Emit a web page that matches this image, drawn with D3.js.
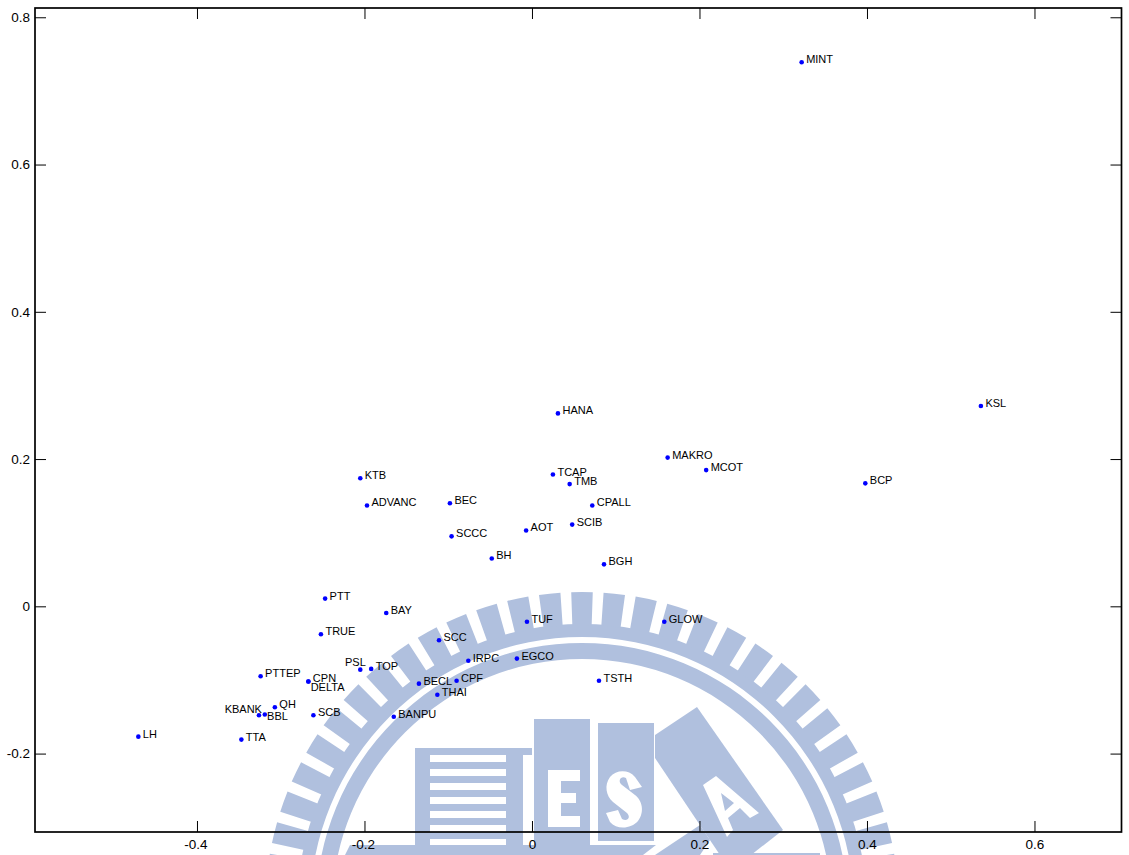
<!DOCTYPE html>
<html>
<head>
<meta charset="utf-8">
<script src="https://cdn.jsdelivr.net/npm/d3@7/dist/d3.min.js"></script>
<style>
    body { margin: 0; background: #fff; }
    text { font-family: "Liberation Sans", Arial, sans-serif; fill: #000; }
</style>
</head>
<body>
<script>
const names = ['MINT', 'KSL', 'HANA', 'MAKRO', 'MCOT', 'BCP', 'TCAP', 'TMB', 'CPALL', 'KTB', 'ADVANC', 'BEC',
    'SCCC', 'AOT', 'SCIB', 'BH', 'BGH', 'PTT', 'BAY', 'TRUE', 'TUF', 'GLOW', 'SCC', 'IRPC', 'EGCO', 'TSTH',
    'CPF', 'BECL', 'THAI', 'BANPU', 'PSL', 'TOP', 'PTTEP', 'CPN', 'DELTA', 'QH', 'KBANK', 'BBL', 'SCB', 'LH', 'TTA']
const xValues = [0.322, 0.536, 0.031, 0.162, 0.208, 0.398, 0.025, 0.045, 0.072, -0.205, -0.197, -0.098,
    -0.096, -0.007, 0.048, -0.048, 0.086, -0.247, -0.174, -0.252, -0.006, 0.158, -0.111, -0.076, -0.018, 0.080,
    -0.090, -0.135, -0.113, -0.165, -0.205, -0.192, -0.324, -0.267, -0.267, -0.307, -0.326, -0.319, -0.261, -0.470, -0.347]
const yValues = [0.739, 0.272, 0.262, 0.202, 0.185, 0.167, 0.179, 0.166, 0.137, 0.174, 0.137, 0.140,
    0.095, 0.103, 0.111, 0.065, 0.057, 0.0105, -0.009, -0.038, -0.021, -0.021, -0.046, -0.074, -0.071, -0.101,
    -0.101, -0.105, -0.120, -0.150, -0.086, -0.085, -0.095, -0.102, -0.102, -0.137, -0.148, -0.147, -0.148, -0.177, -0.181]
const xTicks = [-0.4, -0.2, 0, 0.2, 0.4, 0.6]
const yTicks = [-0.2, 0, 0.2, 0.4, 0.6, 0.8]

const width = 1129, height = 855
const left = 35, right = 1121.5, top_ = 8, bottom = 832
const blue = '#0000ff', mark = '#b0c0de'

const svg = d3.select('body').append('svg')
    .attr('width', width)
    .attr('height', height)
    .style('display', 'block')

const xScale = d3.scaleLinear().domain([-0.5934, 0.7039]).range([left, right])
const yScale = d3.scaleLinear().domain([-0.3065, 0.8126]).range([bottom, top_])

drawWatermark()
drawPoints()
drawAxes()

// school logo behind the plot
function drawWatermark() {
    const g = svg.append('g').attr('fill', mark)
    const ring = d3.arc()
    const rings = g.append('g').attr('transform', 'translate(582,909)')
    rings.append('path').attr('d', ring({ innerRadius: 272, outerRadius: 285, startAngle: -Math.PI / 2, endAngle: Math.PI / 2 }))
    rings.append('path').attr('d', ring({ innerRadius: 250, outerRadius: 266, startAngle: -Math.PI / 2, endAngle: Math.PI / 2 }))
    d3.range(-14, 15).forEach(i => {
        const a = i * 5.85 * Math.PI / 180
        rings.append('path').attr('d', ring({ innerRadius: 284, outerRadius: 317, startAngle: a - 0.034, endAngle: a + 0.034 }))
    })

    // T block with its stripes
    const rects = [[415, 748, 15, 99], [415, 748, 117, 7], [506, 748, 17, 99], [534, 719, 56, 130], [598, 723, 56, 118]]
    d3.range(6).forEach(i => rects.push([430, 762 + i * 14, 76, 7]))
    rects.forEach(r => g.append('rect').attr('x', r[0]).attr('y', r[1]).attr('width', r[2]).attr('height', r[3]))

    const polygon = pts => g.append('polygon').attr('points', pts.join(' '))
    polygon([[345, 855], [350, 845], [656, 845], [643, 855]])
    polygon([[655, 735], [697, 707], [783, 830], [751, 855], [720, 855], [655, 758]])
    polygon([[655, 855], [700, 825], [710, 840], [700, 855]])
    polygon([[713, 853], [820, 853], [820, 855], [713, 855]])

    // letters cut out of the blocks
    g.append('path')
        .attr('fill', '#fff')
        .attr('fill-rule', 'evenodd')
        .attr('d', 'M548 770H580V781H561V793H576V803H561V816H580V827H548Z'
            + 'M642 787L635 777C628 769 616 770 610 777C604 785 606 796 613 802L627 813C631 817 628 822 622 819L618 810L606 813L610 822C617 830 631 829 638 821C645 812 642 800 635 795L622 785C617 781 621 775 626 778L630 790Z'
            + 'M703 785L716 776L759 813L750 818L740 808L728 818L733 830L727 837ZM721 793L725 811L734 803Z')
}

function drawPoints() {
    const offsets = {
        DELTA: [2.3, 9.4],
        KBANK: [3, -2.6, 'end'],
        PSL: [5.5, -3.6, 'end'],
        BBL: [2.3, 5.4]
    }
    const rows = names.map((name, i) => ({ name, x: xValues[i], y: yValues[i] }))

    svg.selectAll('circle.stock')
        .data(rows)
        .enter()
        .append('circle')
        .attr('class', 'stock')
        .attr('r', 2.3)
        .attr('cx', d => xScale(d.x))
        .attr('cy', d => yScale(d.y))
        .style('fill', blue)

    svg.selectAll('text.stock')
        .data(rows)
        .enter()
        .append('text')
        .attr('class', 'stock')
        .attr('x', d => xScale(d.x) + (offsets[d.name] ? offsets[d.name][0] : 4.5))
        .attr('y', d => yScale(d.y) + (offsets[d.name] ? offsets[d.name][1] : 1))
        .attr('text-anchor', d => offsets[d.name] && offsets[d.name][2] ? offsets[d.name][2] : 'start')
        .style('font-size', '11px')
        .text(d => d.name)
}

function drawAxes() {
    const fmt = d => d === 0 ? '0' : String(d)
    const tick = 11
    const axes = [
        [d3.axisBottom(xScale).tickValues(xTicks).tickSize(-tick).tickPadding(7.5).tickFormat(fmt), `translate(0,${bottom})`],
        [d3.axisTop(xScale).tickValues(xTicks).tickSize(-tick).tickFormat(''), `translate(0,${top_})`],
        [d3.axisLeft(yScale).tickValues(yTicks).tickSize(-tick).tickPadding(5).tickFormat(fmt), `translate(${left},0)`],
        [d3.axisRight(yScale).tickValues(yTicks).tickSize(-tick).tickFormat(''), `translate(${right},0)`]
    ]
    axes.forEach((a, i) => {
        const g = svg.append('g').attr('transform', a[1]).call(a[0])
        g.select('.domain').remove()
        g.selectAll('line').attr('stroke', '#000')
        g.selectAll('text').style('font-size', '13.5px').attr('font-family', null)
        if (i === 0) g.selectAll('text').attr('dx', d => d < 0 ? -1.5 : 0)
    })

    svg.append('rect')
        .attr('x', left)
        .attr('y', top_)
        .attr('width', right - left)
        .attr('height', bottom - top_)
        .attr('fill', 'none')
        .attr('stroke', '#000')
        .attr('stroke-width', 1.7)
}
</script>
</body>
</html>
